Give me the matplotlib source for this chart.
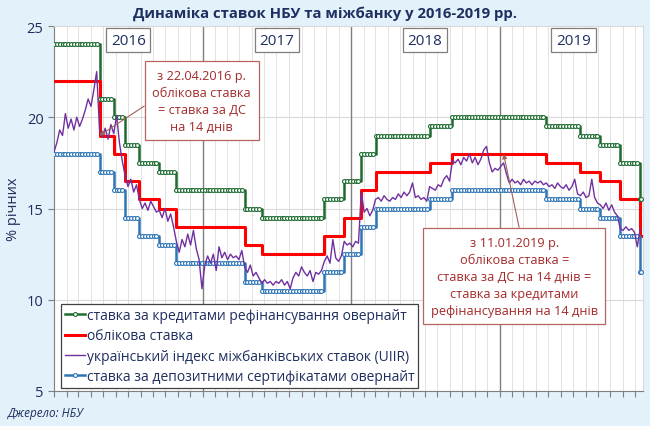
import matplotlib
matplotlib.use("Agg")
import matplotlib.pyplot as plt
import matplotlib.dates as mdates
from matplotlib.lines import Line2D
import pandas as pd

plt.rcParams['font.family'] = ['Open Sans', 'DejaVu Sans']

# NBU rate decisions (date a new level starts)
step_dates = ['2016-01-01', '2016-04-22', '2016-05-27', '2016-06-24', '2016-07-29',
              '2016-09-16', '2016-10-28', '2017-04-14', '2017-05-26', '2017-10-27',
              '2017-12-15', '2018-01-26', '2018-03-02', '2018-07-13', '2018-09-07',
              '2019-04-26', '2019-07-19', '2019-09-06', '2019-10-25', '2019-12-13']
end_date = '2019-12-16'
discount = [22, 19, 18, 16.5, 15.5, 15, 14, 13, 12.5, 13.5,
            14.5, 16, 17, 17.5, 18, 17.5, 17, 16.5, 15.5, 13.5]
refi_on = [24, 21, 20, 18.5, 17.5, 17, 16, 15, 14.5, 15.5,
           16.5, 18, 19, 19.5, 20, 19.5, 19, 18.5, 17.5, 15.5]
dc_on = [18, 17, 16, 14.5, 13.5, 13, 12, 11, 10.5, 11.5,
         12.5, 14, 15, 15.5, 16, 15.5, 15, 14.5, 13.5, 11.5]

# UIIR, weekly readings from 2016-01-01
uiir_start = '2016-01-01'
uiir_2016 = [18.1, 18.6, 19.3, 19.0, 20.2, 19.4, 19.9, 19.3, 20.0, 19.5,
             19.9, 20.4, 21.0, 20.6, 21.5, 22.5, 19.3, 18.9, 19.4, 18.8,
             19.6, 19.1, 20.1, 18.6, 17.6, 16.8, 16.2, 16.6, 15.9, 16.3,
             15.5, 15.0, 15.3, 14.9, 15.4, 15.1, 14.8, 14.9, 14.5, 15.0,
             14.3, 14.7, 14.0, 13.2, 12.6, 13.3, 12.9, 13.6, 13.0, 13.8,
             12.8, 12.2, 10.6]
uiir_2017 = [11.9, 12.4, 12.0, 12.5, 11.6, 12.9, 12.3, 12.6, 12.2, 12.5,
             12.3, 12.4, 12.2, 12.7, 11.8, 11.5, 11.9, 11.3, 11.5, 11.2,
             10.9, 11.1, 10.9, 11.0, 10.8, 11.0, 10.9, 11.1, 10.8, 11.0,
             10.6, 11.2, 11.5, 11.3, 11.8, 11.5, 11.3, 11.6, 11.0, 11.5,
             11.4, 11.6, 12.1, 12.4, 12.0, 13.3, 12.3, 12.1, 12.4, 13.2,
             13.0, 13.1]
uiir_2018 = [12.9, 13.2, 13.1, 15.9, 14.8, 15.0, 14.6, 14.9, 15.5, 15.6,
             15.4, 15.7, 15.5, 15.4, 15.6, 15.5, 15.8, 15.6, 15.9, 15.7,
             15.9, 16.4, 15.6, 15.7, 15.5, 15.6, 15.4, 16.2, 16.1, 16.0,
             16.3, 16.2, 16.6, 16.8, 16.5, 17.6, 17.5, 17.7, 17.4, 17.8,
             17.6, 18.0, 17.5, 17.8, 17.4, 17.7, 18.2, 18.4, 17.5, 17.0,
             17.2, 17.1]
uiir_2019 = [17.3, 17.5, 16.9, 16.4, 16.6, 16.4, 16.5, 16.3, 16.6, 16.4,
             16.5, 16.3, 16.5, 16.4, 16.5, 16.3, 16.4, 16.2, 16.3, 16.1,
             16.4, 16.2, 16.1, 16.3, 16.0, 16.2, 16.6, 15.8, 15.7, 15.9,
             15.6, 15.7, 16.6, 15.6, 15.3, 15.2, 15.0, 15.3, 14.9, 15.2,
             14.8, 14.6, 13.9, 13.8, 14.0, 13.8, 13.9, 13.7, 12.9, 13.9]

years = ['2016', '2017', '2018', '2019']

c_green = '#1E6B30'
c_red = '#FF0000'
c_purple = '#7030A0'
c_blue = '#2E75B6'
c_navy = '#1F2F5F'
c_note = '#A52A2A'

uiir = uiir_2016 + uiir_2017 + uiir_2018 + uiir_2019
uiir_dates = pd.date_range(uiir_start, periods=len(uiir), freq='7D')

sd = pd.to_datetime(step_dates + [end_date])
rates = pd.DataFrame({'disc': discount + [discount[-1]],
                      'refi': refi_on + [refi_on[-1]],
                      'dc': dc_on + [dc_on[-1]]}, index=sd)
# rate in force on each week (for the point markers)
wk = pd.date_range(step_dates[0], end_date, freq='7D').union(sd)
rates_wk = rates.reindex(wk, method='ffill')

fig = plt.figure(figsize=(6.5, 4.27), dpi=100, facecolor='#E3F1FB')
ax = fig.add_axes([54/650, 1-392/427, (643-54)/650, (392-27)/427])

# grid
for m in pd.date_range('2016-02-01', '2019-12-01', freq='MS'):
    ax.axvline(m, color='#E2E2E2', lw=0.7, zorder=0)
for y in years[1:]:
    ax.axvline(pd.Timestamp(y + '-01-01'), color='#7F7F7F', lw=1.0, zorder=1)
ax.yaxis.grid(True, color='#D9D9D9', lw=0.8)
ax.set_axisbelow(True)

ms = 2.8
ax.plot(rates.index, rates['refi'], drawstyle='steps-post', color=c_green, lw=1.8, zorder=3)
ax.plot(rates_wk.index, rates_wk['refi'], ls='none', marker='o', ms=ms, mfc='white',
        mec=c_green, mew=0.8, zorder=4)
ax.plot(rates.index, rates['disc'], drawstyle='steps-post', color=c_red, lw=2.2, zorder=3)
ax.plot(uiir_dates, uiir, color=c_purple, lw=1.0, zorder=5)
ax.plot(rates.index, rates['dc'], drawstyle='steps-post', color=c_blue, lw=1.8, zorder=3)
ax.plot(rates_wk.index, rates_wk['dc'], ls='none', marker='o', ms=ms, mfc='white',
        mec=c_blue, mew=0.8, zorder=4)

ax.set_xlim(pd.Timestamp('2016-01-01'), pd.Timestamp('2019-12-20'))
ax.set_ylim(5, 25)
ax.set_yticks([5, 10, 15, 20, 25])
ax.xaxis.set_major_locator(mdates.MonthLocator())
ax.xaxis.set_major_formatter(plt.NullFormatter())
ax.tick_params(axis='x', length=4, color='#7F7F7F', direction='out')
ax.tick_params(axis='y', length=4, color='#7F7F7F', labelsize=10.5, labelcolor=c_navy)
for s in ['left', 'bottom']:
    ax.spines[s].set_color('#7F7F7F')
for s in ['top', 'right']:
    ax.spines[s].set_color('#D9D9D9')
ax.set_ylabel('% річних', fontsize=10.5, color=c_navy, labelpad=4)

# year labels
for y in years:
    ax.text(pd.Timestamp(y + '-07-02'), 24.22, y, ha='center', va='center', fontsize=11,
            color=c_navy, zorder=6,
            bbox=dict(boxstyle='square,pad=0.3', fc='white', ec='#7F7F7F', lw=0.9))

# notes
ax.annotate('з 22.04.2016 р.\nоблікова ставка\n= ставка за ДС\nна 14 днів',
            xy=(pd.Timestamp('2016-04-22'), 19.0),
            xytext=(pd.Timestamp('2016-12-29'), 20.9),
            ha='center', va='center', fontsize=9.2, color=c_note, linespacing=1.4, zorder=7,
            bbox=dict(boxstyle='square,pad=0.6', fc='white', ec='#B86460', lw=0.9),
            arrowprops=dict(arrowstyle='-|>', color='#A0605A', lw=0.8,
                            mutation_scale=7, relpos=(0, 0.5), shrinkA=0, shrinkB=0))
ax.annotate('з 11.01.2019 р.\nоблікова ставка =\nставка за ДС на 14 днів =\n'
            'ставка за кредитами\nрефінансування на 14 днів',
            xy=(pd.Timestamp('2019-01-11'), 18.0),
            xytext=(pd.Timestamp('2019-02-06'), 11.3),
            ha='center', va='center', fontsize=9.2, color=c_note, linespacing=1.4, zorder=7,
            bbox=dict(boxstyle='square,pad=0.6', fc='white', ec='#B86460', lw=0.9),
            arrowprops=dict(arrowstyle='-|>', color='#A0605A', lw=0.8,
                            mutation_scale=7, relpos=(0.54, 1), shrinkA=0, shrinkB=0))

handles = [
    Line2D([], [], color=c_green, lw=1.8, marker='o', ms=ms, mfc='white', mec=c_green,
           mew=0.8, markevery=[1]),
    Line2D([], [], color=c_red, lw=2.2),
    Line2D([], [], color=c_purple, lw=1.0),
    Line2D([], [], color=c_blue, lw=1.8, marker='o', ms=ms, mfc='white', mec=c_blue,
           mew=0.8, markevery=[1]),
]
labels = ['ставка за кредитами рефінансування овернайт',
          'облікова ставка',
          'український індекс міжбанківських ставок (UIIR)',
          'ставка за депозитними сертифікатами овернайт']
leg = fig.legend(handles, labels, loc='upper left', bbox_to_anchor=(61/650, 1-305/427),
                 fontsize=10, frameon=True, fancybox=False, edgecolor='#404040',
                 facecolor='white', framealpha=1, handlelength=1.4, handletextpad=0.15,
                 labelspacing=0.38, borderpad=0.3, borderaxespad=0)
leg.get_frame().set_linewidth(0.9)
for t in leg.get_texts():
    t.set_color(c_navy)

fig.text(0.5, 1-14/427, 'Динаміка ставок НБУ та міжбанку у 2016-2019 рр.', ha='center',
         va='center', fontsize=10.7, fontweight='bold', color=c_navy)
fig.text(8/650, 1-414/427, 'Джерело: НБУ', ha='left', va='center', fontsize=8.5,
         style='italic', color=c_navy)

fig.savefig('out.png', dpi=100, facecolor=fig.get_facecolor())
